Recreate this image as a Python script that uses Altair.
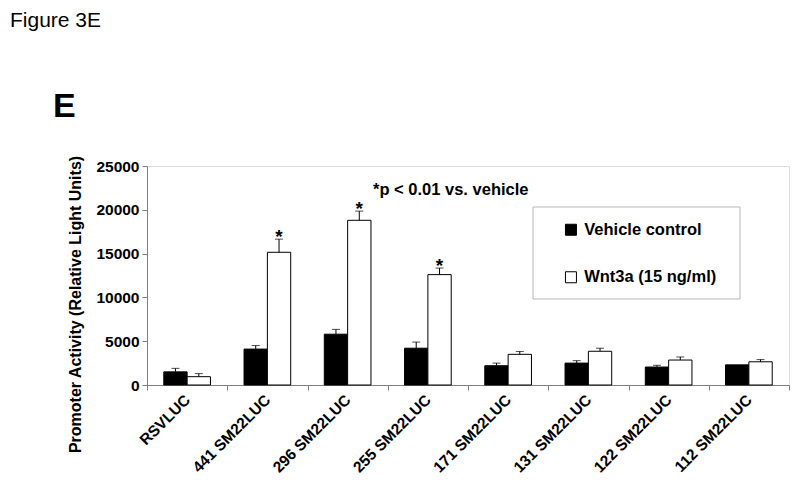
import altair as alt
import pandas as pd

categories = ["RSVLUC", "441 SM22LUC", "296 SM22LUC", "255 SM22LUC",
              "171 SM22LUC", "131 SM22LUC", "122 SM22LUC", "112 SM22LUC"]
series_names = ["Vehicle control", "Wnt3a (15 ng/ml)"]
vehicle = [1500, 4100, 5800, 4200, 2200, 2500, 2050, 2300]
vehicle_err = [400, 400, 550, 700, 300, 280, 200, 0]
wnt3a = [950, 15150, 18800, 12600, 3500, 3850, 2850, 2650]
wnt3a_err = [350, 1500, 1050, 750, 330, 350, 350, 250]
significant = [False, True, True, True, False, False, False, False]
y_ticks = [0, 5000, 10000, 15000, 20000, 25000]

rows = []
for i, c in enumerate(categories):
    rows.append({"category": c, "series": series_names[0], "value": vehicle[i],
                 "top": vehicle[i] + vehicle_err[i], "err": vehicle_err[i], "star": False})
    rows.append({"category": c, "series": series_names[1], "value": wnt3a[i],
                 "top": wnt3a[i] + wnt3a_err[i], "err": wnt3a_err[i], "star": significant[i]})
df = pd.DataFrame(rows)

FONT = "Liberation Sans"
AXIS_COLOR = "#808080"

base = alt.Chart(df)

x_enc = alt.X("category:N", sort=categories,
              scale=alt.Scale(paddingInner=0, paddingOuter=0),
              axis=alt.Axis(title=None, tickBand="extent", labelAngle=-45,
                            labelAlign="right", labelBaseline="middle",
                            labelPadding=7, tickSize=5, labelFont=FONT,
                            labelFontSize=15.5, labelFontWeight="bold",
                            labelColor="black", domainColor=AXIS_COLOR,
                            tickColor=AXIS_COLOR, labelLimit=300))
xoff = alt.XOffset("series:N", sort=series_names,
                   scale=alt.Scale(paddingInner=0, paddingOuter=0.72))
y_enc = alt.Y("value:Q",
              scale=alt.Scale(domain=[0, 25000], nice=False),
              axis=alt.Axis(title="Promoter Activity (Relative Light Units)",
                            values=y_ticks, format="d", grid=False,
                            tickSize=5, labelPadding=3, labelFont=FONT,
                            labelFontSize=15.5, labelFontWeight="bold",
                            labelColor="black", domainColor=AXIS_COLOR,
                            tickColor=AXIS_COLOR, titleFont=FONT,
                            titleFontSize=16, titleFontWeight="bold",
                            titleColor="black", titleAngle=270,
                            titleX=-72, titleY=138, titleAlign="center",
                            titleBaseline="middle"))

legend_box = alt.Chart(pd.DataFrame({"a": [0]})).mark_rect(
    fill="white", stroke="#b8b8b8", strokeWidth=1
).encode(x=alt.value(386), x2=alt.value(593), y=alt.value(41), y2=alt.value(133))

bars = base.mark_bar(stroke="black", strokeWidth=1).encode(
    x=x_enc, xOffset=xoff, y=y_enc,
    fill=alt.Fill("series:N", sort=series_names,
                  scale=alt.Scale(domain=series_names, range=["black", "white"]),
                  legend=alt.Legend(title=None, orient="none", legendX=415.7,
                                    legendY=55.5, padding=0, symbolType="square",
                                    symbolSize=121, symbolStrokeColor="black",
                                    symbolStrokeWidth=1, labelFont=FONT,
                                    labelFontSize=16.5, labelFontWeight="bold",
                                    labelColor="black", rowPadding=30.5,
                                    labelOffset=5, labelLimit=300)),
)

err_rule = base.transform_filter("datum.err > 0").mark_rule(color="black", strokeWidth=1).encode(
    x=alt.X("category:N", sort=categories), xOffset=xoff,
    y="value:Q", y2="top:Q")

err_cap = base.transform_filter("datum.err > 0").mark_tick(color="black", size=8, thickness=1).encode(
    x=alt.X("category:N", sort=categories), xOffset=xoff, y="top:Q")

stars = base.transform_filter("datum.star").mark_text(
    text="*", font=FONT, fontSize=19, fontWeight="bold", baseline="alphabetic", dy=4, color="black"
).encode(x=alt.X("category:N", sort=categories), xOffset=xoff, y="top:Q")


def label(txt, x, y, size, weight="bold"):
    return alt.Chart(pd.DataFrame({"t": [txt]})).mark_text(
        font=FONT, fontSize=size, fontWeight=weight, align="left",
        baseline="alphabetic", color="black"
    ).encode(text="t:N", x=alt.value(x), y=alt.value(y))


fig_title = label("Figure 3E", -137, -139, 21, "normal")
panel_letter = label("E", -94, -49, 34)
note = label("*p < 0.01 vs. vehicle", 226, 29, 16.5)

chart = alt.layer(legend_box, bars, err_rule, err_cap, stars, fig_title, panel_letter, note).properties(
    width=642, height=219,
    autosize=alt.AutoSizeParams(type="none"),
    padding={"left": 139, "top": 158, "right": 3, "bottom": 97},
).configure_view(stroke=None).configure(background="white")

chart.save("out.html", embed_options={"renderer": "svg", "actions": False})
